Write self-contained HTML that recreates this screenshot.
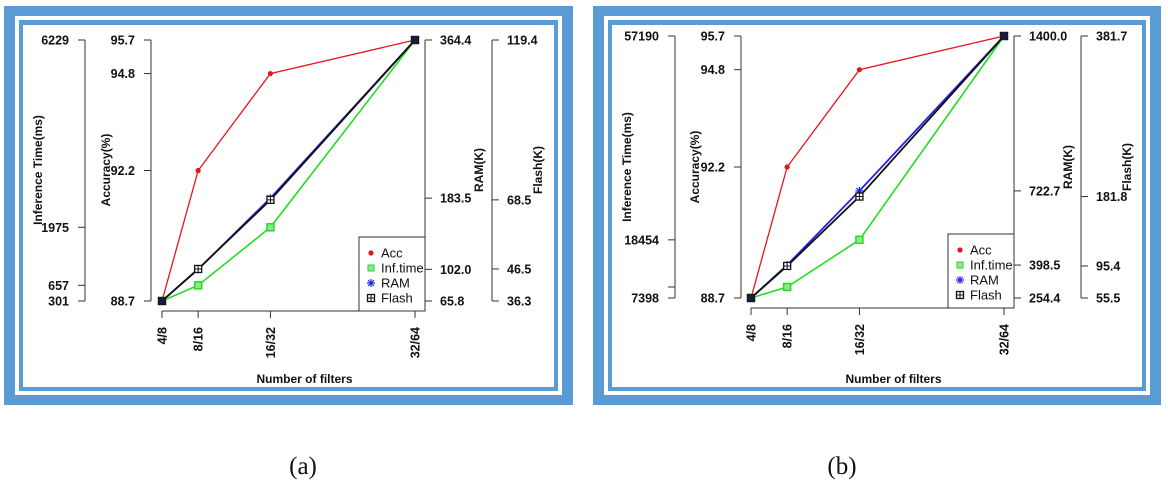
<!DOCTYPE html>
<html><head><meta charset="utf-8">
<style>
html,body{margin:0;padding:0;background:#fff;}
svg{display:block;font-family:"Liberation Sans",Arial,sans-serif;}
.tk{font-weight:bold;font-size:12.5px;fill:#111;}
.ttl{font-weight:bold;font-size:12px;fill:#111;}
.lg{font-size:13px;fill:#111;}
.cap{font-family:"Liberation Serif",serif;font-size:25px;fill:#111;}
</style></head>
<body>
<svg id="chart" width="1168" height="492" viewBox="0 0 1168 492"></svg>
<script>
// categories (number of filters)
const categories = ["4/8","8/16","16/32","32/64"];
const filterCounts = [4, 8, 16, 32];
// panel (a) series
const accA = [88.7, 92.2, 94.8, 95.7];
const infA = [301, 657, 1975, 6229];
const ramA = [65.8, 102.0, 183.5, 364.4];
const flashA = [36.3, 46.5, 68.5, 119.4];
// panel (a) ticks
const accTicksA = [88.7, 92.2, 94.8, 95.7];
const infTicksA = [301, 657, 1975, 6229];
const infLabelsA = ["301","657","1975","6229"];
const ramTicksA = [65.8, 102.0, 183.5, 364.4];
const flashTicksA = [36.3, 46.5, 68.5, 119.4];
// panel (b) series
const accB = [88.7, 92.2, 94.8, 95.7];
const infB = [7398, 9490, 18454, 57190];
const ramB = [254.4, 398.5, 722.7, 1400.0];
const flashB = [55.5, 95.4, 181.8, 381.7];
// panel (b) ticks
const accTicksB = [88.7, 92.2, 94.8, 95.7];
const infTicksB = [7398, 9490, 18454, 57190];
const infLabelsB = ["7398","","18454","57190"];
const ramTicksB = [254.4, 398.5, 722.7, 1400.0];
const flashTicksB = [55.5, 95.4, 181.8, 381.7];

const NS = "http://www.w3.org/2000/svg";
const svg = document.getElementById('chart');
function mk(tag, attrs, parent, txt){
  const e = document.createElementNS(NS, tag);
  for (const k in attrs) e.setAttribute(k, attrs[k]);
  if (txt !== undefined) e.textContent = txt;
  (parent || svg).appendChild(e);
  return e;
}
function lin(d0,d1,r0,r1){ return v => r0 + (v-d0)/(d1-d0)*(r1-r0); }
const RED="#e8141c", GREEN="#22dd22", BLUE="#2222ee", BLACK="#111";

function fmt1(v){ return v.toFixed(1); }

function marker(g, type, x, y){
  let m;
  if (type==='acc'){ m = mk('circle',{cx:x,cy:y,r:2.6,fill:RED},g); }
  else if (type==='inf'){ m = mk('rect',{x:x-3.5,y:y-3.5,width:7,height:7,fill:"#8be88b",stroke:GREEN,'stroke-width':1.5},g); }
  else if (type==='ram'){
    m = mk('g',{},g);
    mk('path',{d:`M${x-4} ${y}H${x+4}M${x} ${y-4}V${y+4}M${x-3} ${y-3}L${x+3} ${y+3}M${x-3} ${y+3}L${x+3} ${y-3}`,stroke:BLUE,'stroke-width':1.2},m);
  } else {
    m = mk('g',{},g);
    mk('rect',{x:x-3.5,y:y-3.5,width:7,height:7,fill:"#fff",stroke:BLACK,'stroke-width':1.3},m);
    mk('path',{d:`M${x-3.5} ${y}H${x+3.5}M${x} ${y-3.5}V${y+3.5}`,stroke:BLACK,'stroke-width':1},m);
  }
  return m;
}

function drawPanel(p){
  const g = mk('g',{});
  
  
  // frame
  const fr = mk('g',{},g);
  
  
  mk('rect',{x:p.fx0,y:6,width:p.fx1-p.fx0,height:399,fill:"#5b9bd5"},fr);
  mk('rect',{x:p.fx0+11,y:16,width:p.fx1-p.fx0-22,height:379,fill:"#fff"},fr);
  mk('rect',{x:p.fx0+15,y:20,width:p.fx1-p.fx0-30,height:371,fill:"#5b9bd5"},fr);
  mk('rect',{x:p.fx0+19,y:25,width:p.fx1-p.fx0-38,height:362,fill:"#fff"},fr);

  const xs = lin(filterCounts[0], filterCounts[filterCounts.length-1], p.x0, p.x1);
  const top=p.top, bot=p.bot;
  const yAcc = lin(p.accT[0], p.accT[p.accT.length-1], bot, top);
  const yInf = lin(p.infT[0], p.infT[p.infT.length-1], bot, top);
  const yRam = lin(p.ramT[0], p.ramT[p.ramT.length-1], bot, top);
  const yFl = lin(p.flT[0], p.flT[p.flT.length-1], bot, top);

  function leftAxis(ax, ticks, labels, sc, name){
    const a = mk('g',{},g);
    
    
    mk('line',{x1:ax,y1:sc(ticks[0]),x2:ax,y2:sc(ticks[ticks.length-1]),stroke:"#333",'stroke-width':1},a);
    ticks.forEach((t,i)=>{
      const y = sc(t);
      mk('line',{x1:ax-7,y1:y,x2:ax,y2:y,stroke:"#333",'stroke-width':1},a);
      if (labels[i]) mk('text',{x:ax-16,y:y+4.5,'text-anchor':'end',class:'tk'},a,labels[i]);
    });
  }
  function rightAxis(ax, ticks, labels, sc, name){
    const a = mk('g',{},g);
    
    
    mk('line',{x1:ax,y1:sc(ticks[0]),x2:ax,y2:sc(ticks[ticks.length-1]),stroke:"#333",'stroke-width':1},a);
    ticks.forEach((t,i)=>{
      const y = sc(t);
      mk('line',{x1:ax,y1:y,x2:ax+7,y2:y,stroke:"#333",'stroke-width':1},a);
      mk('text',{x:ax+15,y:y+4.5,class:'tk'},a,labels[i]);
    });
  }
  leftAxis(p.infX, p.infT, p.infL, yInf, 'inference-time-axis');
  leftAxis(p.accX, p.accT, p.accT.map(fmt1), yAcc, 'accuracy-axis');
  rightAxis(p.ramX, p.ramT, p.ramT.map(fmt1), yRam, 'ram-axis');
  rightAxis(p.flX, p.flT, p.flT.map(fmt1), yFl, 'flash-axis');

  // x axis
  const xa = mk('g',{},g);
  
  
  const axY = bot + 10;
  mk('line',{x1:xs(filterCounts[0]),y1:axY,x2:xs(filterCounts[filterCounts.length-1]),y2:axY,stroke:"#333"},xa);
  categories.forEach((c,i)=>{
    const x = xs(filterCounts[i]);
    mk('line',{x1:x,y1:axY,x2:x,y2:axY+7,stroke:"#333"},xa);
    const t = mk('text',{x:0,y:0,'text-anchor':'end',class:'tk',transform:`translate(${x+4.5},${axY+16}) rotate(-90)`},xa,c);
    
    
  });

  // titles
  function title(x,y,txt,name,rot){
    const t = mk('text',{x:0,y:0,'text-anchor':'middle',class:'ttl',transform:rot?`translate(${x},${y}) rotate(-90)`:`translate(${x},${y})`},g,txt);
    
    
  }
  title(p.fx0+38, p.tY, 'Inference Time(ms)', 'inference-time-title', true);
  title(p.fx0+106, p.tY, 'Accuracy(%)', 'accuracy-title', true);
  title(p.ramX+58, p.tY, 'RAM(K)', 'ram-title', true);
  title(p.flX+50, p.tY, 'Flash(K)', 'flash-title', true);
  title((p.x0+p.x1)/2+16, 383, 'Number of filters', 'x-axis-title', false);

  // series
  const series = [
    {key:'acc', vals:p.acc, sc:yAcc, col:RED, w:1.3},
    {key:'inf', vals:p.inf, sc:yInf, col:GREEN, w:1.6},
    {key:'ram', vals:p.ram, sc:yRam, col:BLUE, w:1.8},
    {key:'flash', vals:p.fl, sc:yFl, col:BLACK, w:1.8}
  ];
  series.forEach(s=>{
    const sg = mk('g',{},g);
    
    
    const pts = s.vals.map((v,i)=>[xs(filterCounts[i]), s.sc(v)]);
    mk('polyline',{points:pts.map(q=>q.join(',')).join(' '),fill:'none',stroke:s.col,'stroke-width':s.w},sg);
    pts.forEach((q,i)=>{
      const m = marker(sg, s.key, q[0], q[1]);
      
      
    });
  });
  // endpoint dark dots
  [0, filterCounts.length-1].forEach(i=>{
    const d = mk('circle',{cx:xs(filterCounts[i]),cy:yFl(p.fl[i]),r:4,fill:"#1a1a40"},g);
    
    
  });

  // legend
  const lg = mk('g',{},g);
  
  
  const lx = p.ramX-66, ly = bot-64;
  mk('rect',{x:lx,y:ly,width:66,height:74,fill:'#fff',stroke:'#333','stroke-width':1},lg);
  const names = ['Acc','Inf.time','RAM','Flash'], keys=['acc','inf','ram','flash'];
  names.forEach((n,i)=>{
    const y = ly + 16 + i*15;
    const e = mk('g',{},lg);
    
    
    const m = marker(e, keys[i], lx+12, y);
    if (keys[i]==='inf'){ m.setAttribute('width',6); m.setAttribute('height',6); m.setAttribute('x',lx+9); m.setAttribute('y',y-3); m.setAttribute('stroke-width',1); }
    mk('text',{x:lx+22,y:y+4.5,class:'lg'},e,n);
  });
}

drawPanel({name:'panel-a', fx0:4, fx1:573, infX:85, accX:151, ramX:425, flX:492, x0:162, x1:415, top:40, bot:301, tY:170,
  acc:accA, inf:infA, ram:ramA, fl:flashA, accT:accTicksA, infT:infTicksA, infL:infLabelsA, ramT:ramTicksA, flT:flashTicksA});
drawPanel({name:'panel-b', fx0:593, fx1:1161, infX:675, accX:741, ramX:1014, flX:1081, x0:751, x1:1004, top:36, bot:298, tY:167,
  acc:accB, inf:infB, ram:ramB, fl:flashB, accT:accTicksB, infT:infTicksB, infL:infLabelsB, ramT:ramTicksB, flT:flashTicksB});

const ca = mk('text',{x:303,y:474,'text-anchor':'middle',class:'cap'},svg,'(a)');


const cb = mk('text',{x:842,y:474,'text-anchor':'middle',class:'cap'},svg,'(b)');


</script>
</body></html>
